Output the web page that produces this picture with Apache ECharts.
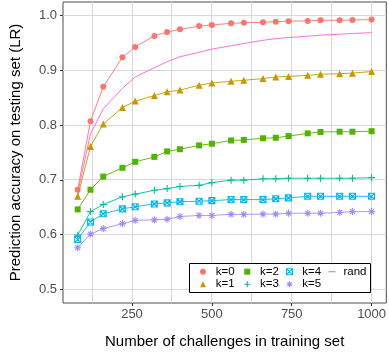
<!DOCTYPE html>
<html><head><meta charset="utf-8">
<script src="https://cdn.jsdelivr.net/npm/echarts@6/dist/echarts.min.js"></script>
<style>html,body{margin:0;padding:0;background:#fff}#c{width:389px;height:354px}</style>
</head><body><div id="c"></div>
<script>
const xValues = [80,120,160,220,260,320,360,400,460,500,560,600,660,700,740,800,840,900,940,1000];
const k0 = [0.682,0.807,0.870,0.924,0.943,0.963,0.970,0.975,0.981,0.983,0.986,0.987,0.988,0.989,0.990,0.9905,0.9916,0.9916,0.992,0.993];
const k1 = [0.670,0.761,0.802,0.832,0.844,0.854,0.861,0.864,0.873,0.877,0.880,0.882,0.885,0.888,0.889,0.891,0.893,0.894,0.895,0.898];
const k2 = [0.646,0.682,0.706,0.722,0.733,0.742,0.752,0.756,0.763,0.766,0.772,0.773,0.776,0.777,0.780,0.785,0.7875,0.788,0.788,0.789];
const k3 = [0.599,0.642,0.655,0.669,0.674,0.681,0.684,0.688,0.690,0.695,0.6995,0.6995,0.702,0.702,0.703,0.703,0.703,0.703,0.703,0.704];
const k4 = [0.591,0.623,0.638,0.647,0.651,0.656,0.658,0.660,0.661,0.662,0.664,0.664,0.664,0.6655,0.667,0.670,0.670,0.670,0.670,0.670];
const k5 = [0.576,0.601,0.611,0.620,0.626,0.627,0.628,0.633,0.635,0.635,0.637,0.637,0.6375,0.6375,0.639,0.639,0.639,0.6405,0.642,0.642];
const rand = [0.676,0.784,0.830,0.867,0.888,0.905,0.916,0.925,0.933,0.939,0.945,0.949,0.955,0.958,0.960,0.9625,0.9645,0.966,0.9675,0.969];
const seriesNames = ['k=0','k=1','k=2','k=3','k=4','k=5','rand'];
const yTicks = [0.5,0.6,0.7,0.8,0.9,1.0];
const xTicks = [250,500,750,1000];
const xMinorGrid = [125,375,625,875];

const FONT = '"Liberation Sans", Arial, sans-serif';
const COLORS = ['#F8766D','#C49A00','#53B400','#00C094','#00B6EB','#A58AFF','#FB61D7'];
const PLUS = 'path://M0,5L10,5M5,0L5,10';
const SQX = 'path://M0,0L10,0L10,10L0,10ZM0,0L10,10M10,0L0,10';
const AST = 'path://M0,5L10,5M5,0L5,10M1.5,1.5L8.5,8.5M8.5,1.5L1.5,8.5';
const RANDICON = 'path://M0,0L7,0L7,1.1L0,1.1Z';
const GRID = '#D8D8D8';
const X_MIN = 34, X_MAX = 1046, Y_MIN = 0.475, Y_MAX = 1.025;

function pairs(ys){ return xValues.map((x,i)=>[x, ys[i]]); }
function filled(c){ return {color:c}; }
function stroked(c){ return {color:'rgba(0,0,0,0)', borderColor:c, borderWidth:1.1}; }

const defs = [
  {name:seriesNames[0], ys:k0, sym:'circle', size:6, st:filled(COLORS[0])},
  {name:seriesNames[1], ys:k1, sym:'triangle', size:7, st:filled(COLORS[1])},
  {name:seriesNames[2], ys:k2, sym:'rect', size:6, st:filled(COLORS[2])},
  {name:seriesNames[3], ys:k3, sym:PLUS, size:7, st:stroked(COLORS[3])},
  {name:seriesNames[4], ys:k4, sym:SQX, size:6, st:stroked(COLORS[4])},
  {name:seriesNames[5], ys:k5, sym:AST, size:7, st:stroked(COLORS[5])},
];

const series = [];
series.push({type:'line', name:seriesNames[6], data:pairs(rand), showSymbol:false, symbol:'none', z:2,
  lineStyle:{color:COLORS[6], width:0.9}, itemStyle:{color:COLORS[6]}});
defs.forEach((d,i)=>{
  series.push({type:'line', name:d.name, data:pairs(d.ys), symbol:d.sym, symbolSize:d.size,
    showSymbol:true, z:5+i,
    lineStyle:{color:COLORS[i], width:0.9}, itemStyle:d.st});
});

const legendText = {fontSize:11.5, fontFamily:FONT, color:'#000', lineHeight:12, padding:[0,0,0,4.7]};
function legendItem(i, icon){
  const d = defs[i];
  return {name:d.name, icon:icon, itemStyle:d.st};
}
const legendBase = {orient:'vertical', padding:0, itemWidth:6, itemHeight:6, itemGap:0.6,
  selectedMode:false, textStyle:legendText, top:265.7};

const legendBox = {type:'rect', id:'legendBox', z:3, shape:{x:189.5, y:263.5, width:181, height:29},
  style:{fill:'#fff', stroke:'#000', lineWidth:1}, silent:true};

const option = {
  animation:false,
  backgroundColor:'#fff',
  grid:{left:51.2, right:2.7, top:2, bottom:44, show:true, borderColor:'#4d4d4d', borderWidth:1, backgroundColor:'transparent'},
  xAxis:{type:'value', min:X_MIN, max:X_MAX, splitLine:{show:false}, axisLine:{show:false},
    axisTick:{show:true, length:3, lineStyle:{color:'#333'}, customValues:xTicks},
    axisLabel:{customValues:xTicks, color:'#4D4D4D', fontSize:13, fontFamily:FONT, margin:5,
      formatter:v=>String(v)},
    name:'Number of challenges in training set', nameLocation:'middle', nameGap:31,
    nameTextStyle:{fontSize:15, fontFamily:FONT, color:'#000'}},
  yAxis:{type:'value', min:Y_MIN, max:Y_MAX, splitLine:{show:false}, axisLine:{show:false},
    axisTick:{show:true, length:3, lineStyle:{color:'#333'}, customValues:yTicks},
    axisLabel:{customValues:yTicks, color:'#4D4D4D', fontSize:13, fontFamily:FONT, margin:6,
      formatter:v=>v.toFixed(1)},
    name:'Prediction accuracy on testing set (LR)', nameLocation:'middle', nameGap:40, nameRotate:90,
    nameTextStyle:{fontSize:15, fontFamily:FONT, color:'#000'}},
  legend:[
    Object.assign({}, legendBase, {left:200, data:[legendItem(0,'circle'), legendItem(1,'triangle')]}),
    Object.assign({}, legendBase, {left:243.7, data:[legendItem(2,'rect'), legendItem(3,PLUS)]}),
    Object.assign({}, legendBase, {left:286, data:[legendItem(4,SQX), legendItem(5,AST)]}),
    Object.assign({}, legendBase, {left:328.5, itemWidth:7, data:[{name:seriesNames[6], icon:RANDICON, itemStyle:{color:COLORS[6]}}],
      textStyle:Object.assign({}, legendText, {padding:[0,0,0,3]})})
  ],
  graphic:[legendBox],
  series:series
};
const chart = echarts.init(document.getElementById('c'));
chart.setOption(option);

// panel gridlines placed through the axis scales, snapped to pixel centres
const gl = [];
function px(x, y){ return chart.convertToPixel({gridIndex:0}, [x, y]); }
function addLine(id, a, b, w){
  gl.push({type:'line', id:id, z:1.5, silent:true,
    shape:{x1:a[0], y1:a[1], x2:b[0], y2:b[1]},
    style:{stroke:GRID, lineWidth:w}});
}
yTicks.forEach((v,i)=>{
  const a = px(X_MIN, v), b = px(X_MAX, v);
  const y = Math.floor(a[1]) + 0.5;
  addLine('gy'+i, [a[0], y], [b[0], y], 1);
});
xTicks.concat(xMinorGrid).forEach((v,i)=>{
  const a = px(v, Y_MIN), b = px(v, Y_MAX);
  const x = Math.floor(a[0]) + 0.5;
  addLine('gx'+i, [x, a[1]], [x, b[1]], 1);
});
chart.setOption({graphic:[legendBox].concat(gl)});
</script>
</body></html>
